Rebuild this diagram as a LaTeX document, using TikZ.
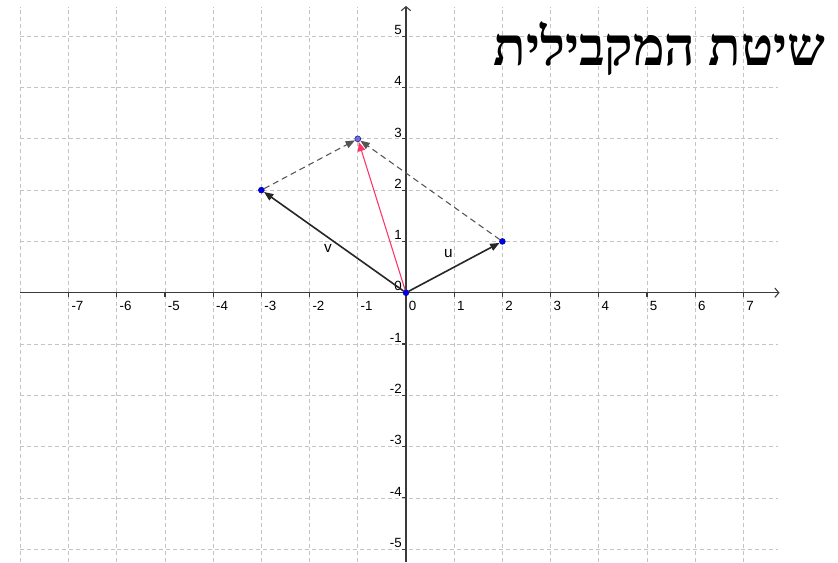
\documentclass[tikz,border=0pt]{standalone}
\usepackage{fontspec}
\setmainfont{Liberation Sans}
\newfontfamily\hebfont[Script=Hebrew]{Liberation Serif}
\TeXXeTstate=1
\usetikzlibrary{arrows.meta}
\definecolor{cGrid}{HTML}{C4C4C4}
\definecolor{cAxis}{HTML}{3A3A3A}
\definecolor{cVec}{HTML}{262626}
\definecolor{cDash}{HTML}{555555}
\definecolor{cSum}{HTML}{FF3366}
\definecolor{cPoint}{HTML}{0000EE}
\definecolor{cPointSum}{HTML}{6E6ED2}

\begin{document}
\begin{tikzpicture}[
  x=36.15pt, y=38.475pt,
  every node/.style={font=\fontsize{10}{12}\selectfont, inner sep=0pt},
  gridline/.style={draw=cGrid, line width=0.5pt, dash pattern=on 3pt off 2.2pt},
  axis/.style={draw=cAxis, line width=0.8pt, -{Straight Barb[length=3pt, width=7pt]}},
  tick/.style={draw=cAxis, line width=0.8pt},
  xlab/.style={anchor=north west, xshift=2pt, yshift=-6.5pt},
  ylab/.style={anchor=south east, xshift=-3pt, yshift=1pt},
  dot/.style={circle, draw=cPoint!60!black, fill=cPoint, line width=0.3pt, minimum size=4.5pt},
  sumdot/.style={dot, fill=cPointSum},
  vec/.style={draw=cVec, line width=1.2pt, -{Triangle[length=7pt, width=5.5pt]}},
  sumvec/.style={draw=cSum, line width=0.8pt, -{Triangle[length=7pt, width=5.5pt]}},
  dashvec/.style={draw=cDash, line width=0.8pt, dash pattern=on 4.5pt off 3pt,
                  -{Triangle[length=7pt, width=5.5pt]}},
  veclab/.style={font=\fontsize{11.5}{13}\selectfont},
  title/.style={font=\hebfont\bfseries\fontsize{40}{44}\selectfont},
]
  \useasboundingbox (-8.423,-5.25) rectangle (8.963,5.706);

  % grid
  \foreach \k in {-8,...,7}
    \draw[gridline] (\k,-5.25) -- (\k,5.57);
  \foreach \k in {-5,...,5}
    \draw[gridline] (-8,\k) -- (7.71,\k);

  % axes
  \draw[axis] (-8,0) -- (7.75,0);
  \draw[axis] (0,-5.25) -- (0,5.59);
  \foreach \k in {-7,...,7}
    \draw[tick] (\k,0) -- ++(0,-3pt);
  \foreach \k in {-5,...,5}
    \draw[tick] (0,\k) -- ++(-3pt,0);
  \foreach \k in {-7,...,7}
    \node[xlab] (x\k) at (\k,0) {\k};
  \foreach \k in {-5,...,5}
    \node[ylab] (y\k) at (0,\k) {\k};

  % points
  \node[dot] (O) at (0,0) {};
  \node[dot] (U) at (2,1) {};
  \node[dot] (V) at (-3,2) {};
  \node[sumdot] (S) at (-1,3) {};

  % vectors
  \draw[dashvec] (V) -- (S);
  \draw[dashvec] (U) -- (S);
  \draw[vec] (O) -- (U);
  \draw[vec] (O) -- (V);
  \draw[sumvec] (O) -- (S);

  \node[veclab] (lu) at (0.88,0.77) {u};
  \node[veclab] (lv) at (-1.62,0.87) {v};

  \node[title] (head) at (5.26,4.75) {\beginR שיטת המקבילית\endR};
\end{tikzpicture}
\end{document}
